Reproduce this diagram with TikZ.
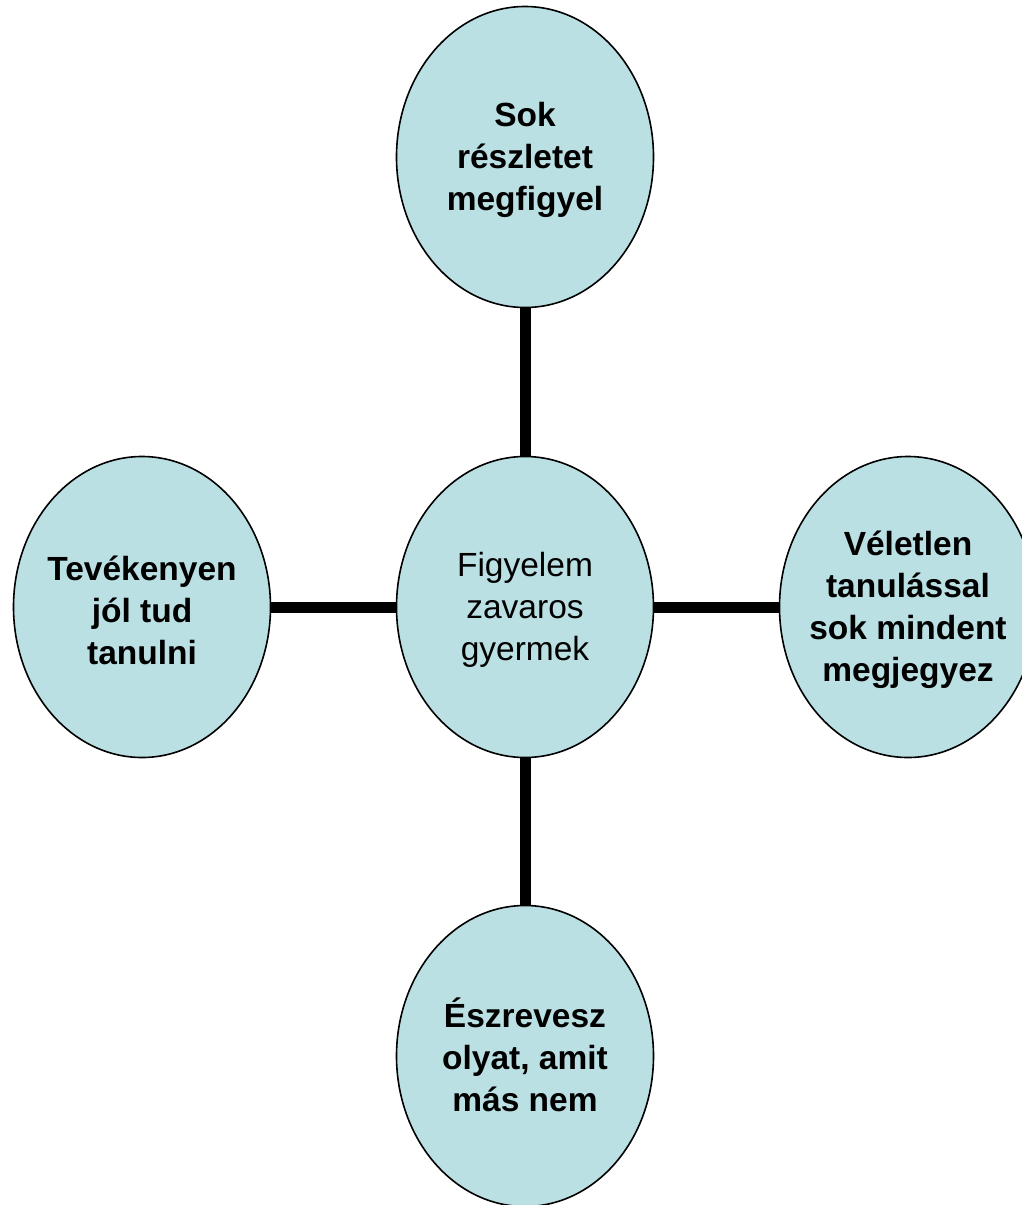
\documentclass[tikz,border=0pt]{standalone}
\usepackage{fontspec}
\setmainfont{Liberation Sans}
\usetikzlibrary{shapes.geometric,backgrounds}
\definecolor{bubblefill}{HTML}{BBE0E3}
\tikzset{
  bubble/.style={ellipse, draw=black, line width=1.6pt, fill=bubblefill,
    minimum width=257pt, minimum height=301pt, inner sep=0pt},
  bubbletext/.style={align=center, font=\fontsize{33.5}{42}\selectfont\bfseries, inner sep=0pt},
  centertext/.style={align=center, font=\fontsize{33.5}{42}\selectfont, inner sep=0pt},
  link/.style={line width=11pt, black}
}
\begin{document}
\begin{tikzpicture}[x=1pt,y=-1pt]
\useasboundingbox (0,0) rectangle (1022,1205);
\node[bubble] (mid) at (525,607) {};
\node[bubble] (top) at (525,157) {};
\node[bubble] (left) at (142,607) {};
\node[bubble] (right) at (908,607) {};
\node[bubble] (bottom) at (525,1056) {};
\node[centertext] (midtxt) at (525,610) {Figyelem\\zavaros\\gyermek};
\node[bubbletext] (toptxt) at (525,160) {Sok\\részletet\\megfigyel};
\node[bubbletext] (lefttxt) at (142,610) {Tevékenyen\\jól tud\\tanulni};
\node[bubbletext] (righttxt) at (908,610) {Véletlen\\tanulással\\sok mindent\\megjegyez};
\node[bubbletext] (bottomtxt) at (525,1055) {Észrevesz\\olyat, amit\\más nem};
\begin{pgfonlayer}{background}
\draw[link] (mid.center) -- (top.center);
\draw[link] (mid.center) -- (left.center);
\draw[link] (mid.center) -- (right.center);
\draw[link] (mid.center) -- (bottom.center);
\end{pgfonlayer}
\end{tikzpicture}
\end{document}
